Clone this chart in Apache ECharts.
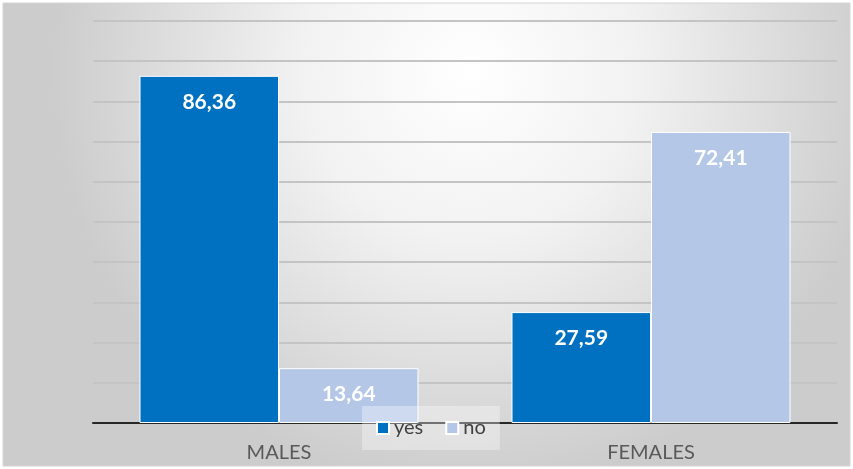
<!DOCTYPE html>
<html>
<head>
<meta charset="utf-8">
<script src="https://cdn.jsdelivr.net/npm/echarts@6/dist/echarts.min.js"></script>
<style>html,body{margin:0;padding:0;background:#fff}#c{width:853px;height:469px}</style>
</head>
<body>
<div id="c"></div>
<script>
const categories = ['MALES', 'FEMALES'];
const yesValues = [86.36, 27.59];
const noValues = [13.64, 72.41];
const seriesNames = ['yes', 'no'];

const chart = echarts.init(document.getElementById('c'));
const fmt = p => String(p.value.toFixed(2)).replace('.', ',');
const labelStyle = {
  show: true, position: 'insideTop', distance: 16, color: '#ffffff',
  fontFamily: 'Lato', fontWeight: 'bold', fontSize: 21, formatter: fmt
};
chart.setOption({
  animation: false,
  graphic: [{
    type: 'rect', z: -10, silent: true,
    shape: { x: 3, y: 3, width: 847, height: 463 },
    style: {
      fill: new echarts.graphic.RadialGradient(0.55, 0.15, 0.9, [
        { offset: 0, color: '#ffffff' },
        { offset: 0.4, color: '#f2f2f2' },
        { offset: 1, color: '#cccccc' }
      ]),
      stroke: '#d4d4d4', lineWidth: 1
    }
  }],
  grid: { left: 93, right: 16, top: 21, bottom: 46, containLabel: false },
  legend: {
    data: seriesNames, left: 362, top: 406, itemWidth: 12, itemHeight: 12,
    icon: 'rect', itemGap: 22, padding: [12, 14],
    backgroundColor: 'rgba(255,255,255,0.35)',
    textStyle: { fontFamily: 'Lato', fontSize: 20, color: '#404040' }
  },
  xAxis: {
    type: 'category', data: categories,
    axisLine: { lineStyle: { color: '#262626', width: 2 } },
    axisTick: { show: false },
    axisLabel: { fontFamily: 'Lato', fontSize: 20, color: '#595959', margin: 20 }
  },
  yAxis: {
    type: 'value', min: 0, max: 100, interval: 10,
    axisLabel: { show: false }, axisLine: { show: false }, axisTick: { show: false },
    splitLine: { lineStyle: { color: '#c4c4c4', width: 2 } }
  },
  series: [
    { name: seriesNames[0], type: 'bar', data: yesValues, barGap: '0%', barCategoryGap: '25%',
      itemStyle: { color: '#0070c0', borderColor: '#ffffff', borderWidth: 1 }, label: labelStyle },
    { name: seriesNames[1], type: 'bar', data: noValues,
      itemStyle: { color: '#b4c7e7', borderColor: '#ffffff', borderWidth: 1 }, label: labelStyle }
  ]
});
</script>
</body>
</html>
